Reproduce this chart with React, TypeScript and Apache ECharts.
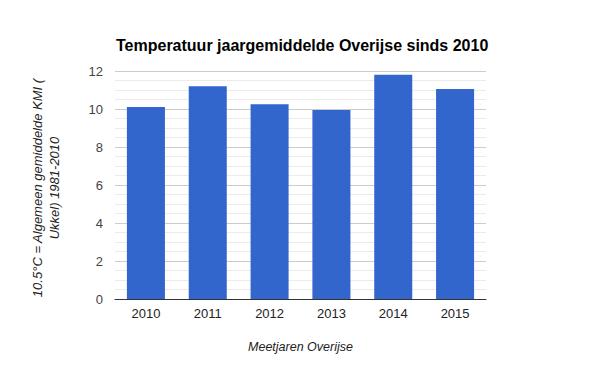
import React, { useEffect, useRef } from "react";
import * as echarts from "echarts";

const categories = ["2010", "2011", "2012", "2013", "2014", "2015"];
const values = [10.1, 11.2, 10.25, 9.95, 11.8, 11.05];
const yTicks = [0, 2, 4, 6, 8, 10, 12];

export default function App() {
  const ref = useRef<HTMLDivElement>(null);
  useEffect(() => {
    if (!ref.current) return;
    const chart = echarts.init(ref.current, undefined, { renderer: "svg" });
    chart.setOption({
      animation: false,
      backgroundColor: "#ffffff",
      title: {
        text: "Temperatuur jaargemiddelde Overijse sinds 2010",
        left: 111,
        top: 32,
        textStyle: { fontFamily: "Liberation Sans, Arial", fontSize: 16, fontWeight: "bold", color: "#000" },
      },
      grid: { left: 115, right: 114, top: 71, bottom: 72, containLabel: false },
      xAxis: {
        type: "category",
        data: categories,
        axisTick: { show: false },
        axisLine: { lineStyle: { color: "#333", width: 1 } },
        axisLabel: { color: "#222", fontFamily: "Liberation Sans, Arial", fontSize: 13, margin: 8 },
        name: "Meetjaren Overijse",
        nameLocation: "middle",
        nameGap: 41,
        nameTextStyle: { fontFamily: "Liberation Sans, Arial", fontSize: 12.5, fontStyle: "italic", color: "#222" },
      },
      yAxis: {
        type: "value",
        min: yTicks[0],
        max: yTicks[yTicks.length - 1],
        interval: 2,
        axisLine: { show: false },
        axisTick: { show: false },
        axisLabel: { color: "#444", fontFamily: "Liberation Sans, Arial", fontSize: 13, margin: 12 },
        splitLine: { lineStyle: { color: "#cccccc", width: 1 } },
        minorTick: { show: false, splitNumber: 4 },
        minorSplitLine: { show: true, lineStyle: { color: "#ebebeb", width: 1 } },
      },
      graphic: [
        {
          type: "text",
          x: 46,
          y: 188,
          rotation: Math.PI / 2,
          style: {
            text: "10.5°C = Algemeen gemiddelde KMI (\nUkkel) 1981-2010",
            fontFamily: "Liberation Sans, Arial",
            fontSize: 13,
            fontStyle: "italic",
            fill: "#222",
            align: "center",
            verticalAlign: "middle",
            lineHeight: 17,
          },
        },
      ],
      series: [
        {
          type: "bar",
          data: values,
          barWidth: "61.5%",
          itemStyle: { color: "#3366cc" },
        },
      ],
    });
    return () => chart.dispose();
  }, []);
  return <div ref={ref} style={{ width: 600, height: 371, position: "absolute", left: 0, top: 0 }} />;
}
